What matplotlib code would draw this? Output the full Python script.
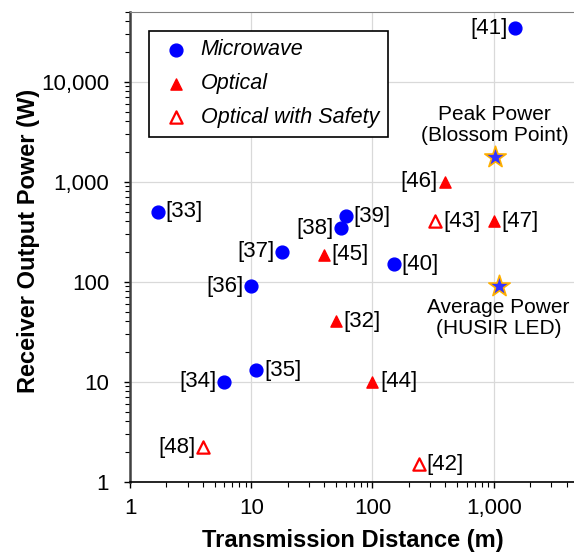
import matplotlib
matplotlib.use('Agg')
import matplotlib.pyplot as plt
from matplotlib.ticker import FuncFormatter, LogLocator, NullFormatter

plt.rcParams['font.family'] = ['Liberation Sans', 'DejaVu Sans']

# Microwave
mw_x = [1.7, 6, 10, 11, 18, 55, 60, 150, 1500]
mw_y = [500, 10, 90, 13, 200, 340, 450, 150, 34000]
mw_ref = ['[33]', '[34]', '[36]', '[35]', '[37]', '[38]', '[39]', '[40]', '[41]']
mw_side = ['r', 'l', 'l', 'r', 'l', 'l', 'r', 'r', 'l']

# Optical
op_x = [40, 50, 100, 400, 1000]
op_y = [185, 40, 10, 1000, 400]
op_ref = ['[45]', '[32]', '[44]', '[46]', '[47]']
op_side = ['r', 'r', 'r', 'l', 'r']

# Optical with safety
os_x = [4, 240, 330]
os_y = [2.2, 1.5, 400]
os_ref = ['[48]', '[42]', '[43]']
os_side = ['l', 'r', 'r']

# reference stars
star_x = [1020, 1100]
star_y = [1780, 90]
star_txt = ['Peak Power\n(Blossom Point)', 'Average Power\n(HUSIR LED)']

fig = plt.figure(figsize=(5.74, 5.52), dpi=100)
ax = fig.add_axes([130 / 574, 1 - 481.7 / 552, 444 / 574, 470 / 552])
ax.set_xscale('log')
ax.set_yscale('log')
ax.set_xlim(1, 4600)
ax.set_ylim(1, 50000)

ax.scatter(mw_x, mw_y, s=85, marker='o', color='#0000ff', zorder=3, label='Microwave')
ax.scatter(op_x, op_y, s=65, marker='^', color='#ff0000', zorder=3, label='Optical')
ax.scatter(os_x, os_y, s=78, marker='^', facecolor='white', edgecolor='#ff0000',
           linewidth=1.6, zorder=3, label='Optical with Safety')
ax.scatter(star_x, star_y, s=260, marker='*', color='#3333ff', edgecolor='#ffb000',
           linewidth=1.2, zorder=4)

def put_labels(xs, ys, refs, sides):
    for x, y, t, s in zip(xs, ys, refs, sides):
        if s == 'r':
            ax.annotate(t, (x, y), xytext=(5.5, 0), textcoords='offset points',
                        ha='left', va='center', fontsize=16)
        else:
            ax.annotate(t, (x, y), xytext=(-5.5, 0), textcoords='offset points',
                        ha='right', va='center', fontsize=16)

put_labels(mw_x, mw_y, mw_ref, mw_side)
put_labels(op_x, op_y, op_ref, op_side)
put_labels(os_x, os_y, os_ref, os_side)

ax.annotate(star_txt[0], (star_x[0], star_y[0]), xytext=(0, 8), textcoords='offset points',
            ha='center', va='bottom', fontsize=15, linespacing=1.15)
ax.annotate(star_txt[1], (star_x[1], star_y[1]), xytext=(0, -8.5), textcoords='offset points',
            ha='center', va='top', fontsize=15, linespacing=1.15)

fmt = FuncFormatter(lambda v, p: '{:,.0f}'.format(v))
ax.xaxis.set_major_formatter(fmt)
ax.yaxis.set_major_formatter(fmt)
ax.xaxis.set_minor_locator(LogLocator(base=10, subs=range(2, 10), numticks=20))
ax.yaxis.set_minor_locator(LogLocator(base=10, subs=range(2, 10), numticks=20))
ax.xaxis.set_minor_formatter(NullFormatter())
ax.yaxis.set_minor_formatter(NullFormatter())
ax.tick_params(which='major', direction='out', length=4.5, width=1, labelsize=16, colors='black')
ax.tick_params(which='minor', direction='out', length=3.5, width=0.8)
ax.tick_params(axis='x', which='major', pad=7)
ax.tick_params(axis='y', which='major', pad=10.5)
ax.grid(True, which='major', color='#d9d9d9', linewidth=0.9)
ax.set_axisbelow(True)

ax.spines['right'].set_visible(False)
ax.spines['top'].set_color('#808080')
ax.spines['left'].set_linewidth(1.8)
ax.spines['left'].set_color('#404040')
ax.spines['bottom'].set_linewidth(1.2)

ax.set_xlabel('Transmission Distance (m)', fontsize=17, fontweight='bold', va='center')
ax.set_ylabel('Receiver Output Power (W)', fontsize=17, fontweight='bold', va='center')
ax.xaxis.set_label_coords(0.501, -0.125)
ax.yaxis.set_label_coords(-0.2297, 0.513)

leg = ax.legend(loc='upper left', bbox_to_anchor=(19 / 444, 1 - 19 / 470), fancybox=False,
                framealpha=1, edgecolor='black', prop={'style': 'italic', 'size': 15.5},
                borderpad=0.4, labelspacing=0.6, handlelength=1.7, handletextpad=0.3,
                borderaxespad=0)
leg.get_frame().set_linewidth(1.2)

fig.savefig('out.png', dpi=100)
